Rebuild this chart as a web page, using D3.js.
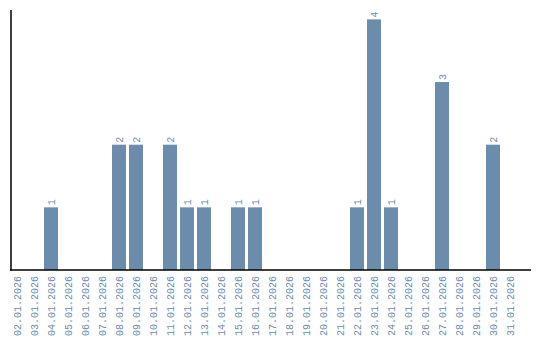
<!DOCTYPE html>
<html>
<head>
<meta charset="utf-8">
<script src="https://cdn.jsdelivr.net/npm/d3@7"></script>
<style>
  body { margin: 0; background: #fff; }
  .lbl { font-family: "Liberation Mono", monospace; font-size: 10px; fill: #6b8cab; }
</style>
</head>
<body>
<div id="chart"></div>
<script>
// dates shown on the x axis
var days = ["02.01.2026","03.01.2026","04.01.2026","05.01.2026","06.01.2026","07.01.2026",
    "08.01.2026","09.01.2026","10.01.2026","11.01.2026","12.01.2026","13.01.2026",
    "14.01.2026","15.01.2026","16.01.2026","17.01.2026","18.01.2026","19.01.2026",
    "20.01.2026","21.01.2026","22.01.2026","23.01.2026","24.01.2026","25.01.2026",
    "26.01.2026","27.01.2026","28.01.2026","29.01.2026","30.01.2026","31.01.2026"];
var counts = [0,0,1,0,0,0,2,2,0,2,1,1,0,1,1,0,0,0,0,0,1,4,1,0,0,3,0,0,2,0];

var width = 540, height = 340;
var barColor = "#6b8cab";

var svg = d3.select("#chart").append("svg")
    .attr("width", width)
    .attr("height", height);

var x = d3.scaleBand()
    .domain(days)
    .range([8.5, 8.5 + 17 * days.length])
    .paddingInner(3 / 17)
    .paddingOuter(1.5 / 17);

var y = d3.scaleLinear()
    .domain([0, 4.15])
    .range([270, 10]);

var data = days.map(function(d, i){ return {day: d, n: counts[i]}; });
var nonZero = data.filter(function(d){ return d.n > 0; });

svg.selectAll(".bar")
    .data(nonZero)
    .enter().append("rect")
    .attr("class", "bar")
    .attr("x", function(d){ return x(d.day); })
    .attr("width", x.bandwidth())
    .attr("y", function(d){ return y(d.n); })
    .attr("height", function(d){ return y(0) - y(d.n); })
    .attr("fill", barColor);

// value labels above bars
svg.selectAll(".val")
    .data(nonZero)
    .enter().append("text")
    .attr("class", "lbl val")
    .attr("transform", function(d){
        return "translate(" + (x(d.day) + x.bandwidth() / 2) + "," + (y(d.n) - 2) + ") rotate(-90)";
    })
    .attr("dy", "0.35em")
    .attr("text-anchor", "start")
    .text(function(d){ return d.n; });

// x tick labels
svg.selectAll(".tick-lbl")
    .data(days)
    .enter().append("text")
    .attr("class", "lbl tick-lbl")
    .attr("transform", function(d){
        return "translate(" + (x(d) + x.bandwidth() / 2) + ",276) rotate(-90)";
    })
    .attr("dy", "0.35em")
    .attr("text-anchor", "end")
    .text(function(d){ return d; });

// axis lines
svg.append("line")
    .attr("x1", 11).attr("x2", 11)
    .attr("y1", 10).attr("y2", 270.5)
    .attr("stroke", "#000").attr("stroke-width", 1.5);

svg.append("line")
    .attr("x1", 10).attr("x2", 531)
    .attr("y1", 270).attr("y2", 270)
    .attr("stroke", "#000").attr("stroke-width", 1.5);
</script>
</body>
</html>
